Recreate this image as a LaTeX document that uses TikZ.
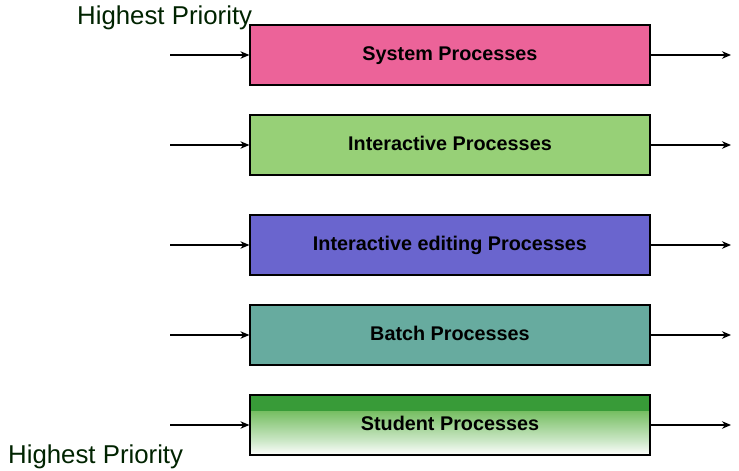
\documentclass[tikz,border=0pt]{standalone}
\usepackage{fontspec}
\setmainfont{Liberation Sans}
\usetikzlibrary{arrows.meta}
\definecolor{pinkc}{RGB}{236,99,153}
\definecolor{lgreen}{RGB}{151,208,119}
\definecolor{purp}{RGB}{106,101,206}
\definecolor{teal}{RGB}{103,171,159}
\definecolor{dkgreen}{RGB}{56,155,56}
\definecolor{midgreen}{RGB}{118,190,98}
\definecolor{palegreen}{RGB}{205,232,200}
\definecolor{labelc}{RGB}{0,35,0}
\begin{document}
\begin{tikzpicture}[x=1pt,y=-1pt,
  procbox/.style={draw=black,line width=1.2pt,minimum width=400pt,minimum height=60pt,inner sep=0pt,
    text height=13.4pt,text depth=2pt,
    font=\fontsize{19.8}{21}\selectfont\bfseries,text=black},
  conn/.style={line width=1.1pt,-{Stealth[length=9pt,width=7.5pt]}},
  prio/.style={font=\fontsize{25.8}{27}\selectfont,text=labelc,inner sep=0pt,anchor=base west}]
\useasboundingbox (0,0) rectangle (739,471);
\node[procbox,fill=pinkc] (p1) at (450,55) {System Processes};
\node[procbox,fill=lgreen] (p2) at (450,145) {Interactive Processes};
\node[procbox,fill=purp] (p3) at (450,245) {Interactive editing Processes};
\node[procbox,fill=teal] (p4) at (450,335) {Batch Processes};
\node[procbox,path picture={
   \fill[dkgreen] (path picture bounding box.north west) rectangle ([yshift=-16pt]path picture bounding box.north east);
   \shade[top color=midgreen,bottom color=palegreen] ([yshift=-16pt]path picture bounding box.north west) rectangle ([yshift=14pt]path picture bounding box.south east);
   \shade[top color=palegreen,bottom color=white] ([yshift=14pt]path picture bounding box.south west) rectangle (path picture bounding box.south east);
  }] (p5) at (450,425) {Student Processes};
\foreach \i/\y in {1/55,2/145,3/245,4/335,5/425}{
  \coordinate (in\i) at (170,\y);
  \coordinate (out\i) at (731,\y);
  \draw[conn] (in\i) -- (p\i.west);
  \draw[conn] (p\i.east) -- (out\i);
}
\node[prio] (top) at (77,24) {Highest Priority};
\node[prio] (bot) at (8,463) {Highest Priority};
\end{tikzpicture}
\end{document}
